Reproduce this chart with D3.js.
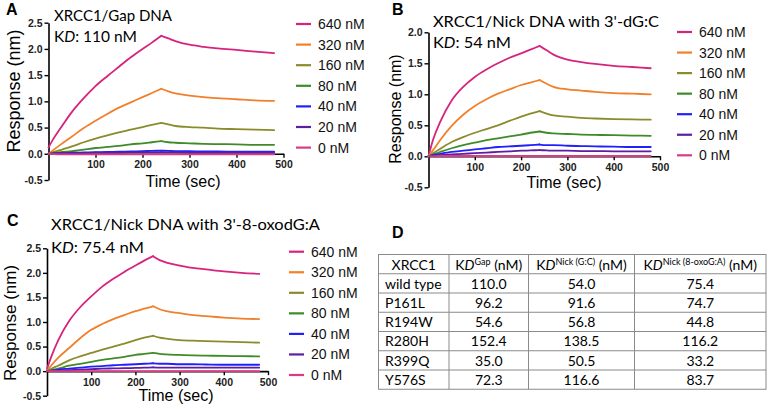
<!DOCTYPE html>
<html><head><meta charset="utf-8">
<script src="https://cdn.jsdelivr.net/npm/d3@7"></script>
<style>body{margin:0;background:#fff} svg{display:block}</style>
</head><body>
<svg id="c" width="774" height="409"></svg>
<script>
// ---------- data ----------
const times = [0,10,25,50,75,100,125,150,175,200,220,240,255,270,300,330,360,400,440,480];
const concentrations = ["640 nM","320 nM","160 nM","80 nM","40 nM","20 nM","0 nM"];

const gapResponses = [
  [0.12,0.28,0.48,0.80,1.06,1.29,1.48,1.66,1.84,2.00,2.12,2.25,2.20,2.15,2.08,2.04,2.01,1.98,1.95,1.92],
  [0,0.07,0.17,0.33,0.49,0.63,0.76,0.88,0.98,1.08,1.16,1.24,1.19,1.15,1.11,1.08,1.06,1.04,1.02,1.01],
  [0,0.03,0.07,0.14,0.22,0.29,0.35,0.41,0.46,0.51,0.55,0.59,0.56,0.53,0.51,0.50,0.48,0.47,0.46,0.45],
  [0,0.01,0.03,0.05,0.08,0.11,0.13,0.15,0.18,0.20,0.22,0.24,0.22,0.21,0.20,0.19,0.185,0.18,0.17,0.17],
  [0,0.005,0.01,0.02,0.025,0.03,0.035,0.04,0.045,0.05,0.055,0.06,0.055,0.05,0.05,0.045,0.045,0.04,0.04,0.04],
  [0,0.005,0.01,0.01,0.015,0.02,0.02,0.02,0.025,0.025,0.025,0.03,0.025,0.025,0.02,0.02,0.02,0.02,0.02,0.02],
  [0,-0.005,-0.01,-0.01,-0.01,-0.01,-0.01,-0.01,-0.01,-0.01,-0.01,-0.01,-0.01,-0.01,-0.01,-0.01,-0.01,-0.01,-0.01,-0.01]
];
const nickGCResponses = [
  [0,0.27,0.55,0.90,1.12,1.28,1.40,1.50,1.59,1.66,1.72,1.78,1.71,1.64,1.56,1.52,1.49,1.46,1.44,1.42],
  [0,0.10,0.26,0.49,0.67,0.81,0.92,1.01,1.08,1.15,1.19,1.23,1.17,1.12,1.08,1.06,1.04,1.02,1.01,1.00],
  [0,0.05,0.12,0.23,0.31,0.38,0.44,0.50,0.57,0.64,0.69,0.73,0.69,0.66,0.64,0.62,0.61,0.60,0.595,0.59],
  [0,0.03,0.07,0.13,0.18,0.22,0.26,0.29,0.32,0.35,0.38,0.40,0.38,0.37,0.36,0.35,0.345,0.34,0.335,0.33],
  [0,0.02,0.04,0.07,0.09,0.11,0.13,0.15,0.16,0.17,0.18,0.19,0.18,0.18,0.17,0.165,0.16,0.155,0.15,0.15],
  [0,0.01,0.02,0.03,0.04,0.05,0.06,0.07,0.08,0.09,0.095,0.10,0.095,0.09,0.09,0.085,0.085,0.08,0.08,0.08],
  [0,0,0.005,0.005,0.005,0.005,0.005,0.005,0.005,0.005,0.005,0.005,0.005,0.005,0.005,0.005,0.005,0.005,0.005,0.005]
];
const nickOxoResponses = [
  [0.05,0.30,0.62,1.02,1.30,1.52,1.72,1.88,2.02,2.15,2.25,2.34,2.26,2.21,2.15,2.10,2.07,2.03,2.00,1.98],
  [0,0.12,0.27,0.47,0.67,0.84,0.96,1.06,1.14,1.22,1.27,1.32,1.26,1.22,1.18,1.14,1.12,1.09,1.07,1.06],
  [0,0.05,0.11,0.22,0.30,0.37,0.44,0.50,0.56,0.63,0.68,0.72,0.68,0.66,0.63,0.62,0.61,0.60,0.59,0.58],
  [0,0.02,0.05,0.11,0.15,0.19,0.23,0.26,0.29,0.33,0.35,0.37,0.35,0.34,0.33,0.32,0.315,0.31,0.305,0.30],
  [0,0.01,0.03,0.05,0.07,0.09,0.10,0.12,0.13,0.14,0.15,0.16,0.15,0.15,0.14,0.14,0.135,0.13,0.13,0.13],
  [0,0.005,0.01,0.02,0.03,0.04,0.05,0.055,0.06,0.065,0.07,0.075,0.07,0.07,0.07,0.07,0.07,0.07,0.07,0.07],
  [0,0,0,0,0,0,0,0,0,0,0,0,0,0,0,0,0,0,0,0]
];

const yTicksTall = [-0.5,0,0.5,1,1.5,2,2.5];
const yTicksShort = [-0.5,0,0.5,1,1.5,2];
const xTicks = [100,200,300,400,500];

const mutants = ["wild type","P161L","R194W","R280H","R399Q","Y576S"];
const kdGap = [110.0,96.2,54.6,152.4,35.0,72.3];
const kdNickGC = [54.0,91.6,56.8,138.5,50.5,116.6];
const kdNickOxo = [75.4,74.7,44.8,116.2,33.2,83.7];

// ---------- styles ----------
const colors = ["#d6247e","#f0802c","#8b8b2c","#3e8b28","#2020ff","#5b1f9f","#dc3a86"];
const SANS = "'Liberation Sans', Arial, sans-serif";
const HUM = "Lato, 'Open Sans', sans-serif";
const PEAK_T = 240;

const svg = d3.select("#c");

function drawPanel(p) {
  const x = d3.scaleLinear().domain([0,500]).range([p.x0, p.x1]);
  const y = d3.scaleLinear().domain([-0.5, p.yMax]).range([p.yBot, p.yTop]);
  const g = svg.append("g");

  const ya = g.append("g").attr("transform", `translate(${p.x0},0)`)
    .call(d3.axisLeft(y).tickValues(p.yTicks).tickSize(4).tickSizeOuter(0).tickPadding(2)
      .tickFormat(d => d.toFixed(1)));
  const xa = g.append("g").attr("transform", `translate(0,${y(0)})`)
    .call(d3.axisBottom(x).tickValues(xTicks).tickSize(4).tickSizeOuter(0).tickPadding(3)
      .tickFormat(d3.format("d")));
  [ya, xa].forEach(a => {
    a.selectAll(".domain").attr("stroke", "#000").attr("stroke-width", 1.6);
    a.selectAll(".tick line").attr("stroke", "#000").attr("stroke-width", 1.4);
    a.selectAll("text").attr("font-family", SANS).attr("font-weight", "bold")
      .attr("font-size", 10.5).attr("fill", "#222");
  });

  const line = d3.line().x(d => x(d[0])).y(d => y(d[1])).curve(d3.curveMonotoneX);
  p.data.forEach((s, i) => {
    const pts = s.map((v, k) => [times[k], v]);
    const assoc = pts.filter(d => d[0] <= PEAK_T);
    const dissoc = pts.filter(d => d[0] >= PEAK_T);
    [assoc, dissoc].forEach(seg => {
      g.append("path").attr("d", line(seg)).attr("fill", "none")
        .attr("stroke", colors[i]).attr("stroke-width", 1.8)
        .attr("stroke-linejoin", "round").attr("stroke-linecap", "round");
    });
  });

  g.append("text").attr("transform", `translate(${p.yTitleX},${p.yTitleY}) rotate(-90)`)
    .attr("text-anchor", "middle").attr("font-family", SANS).attr("font-size", p.yTitleSize)
    .text("Response (nm)");
  g.append("text").attr("x", p.xTitleX).attr("y", p.xTitleY)
    .attr("text-anchor", "middle").attr("font-family", SANS).attr("font-size", 16)
    .text("Time (sec)");

  g.append("text").attr("x", p.letterX).attr("y", p.letterY)
    .attr("font-family", SANS).attr("font-weight", "bold").attr("font-size", 16)
    .text(p.letter);

  g.append("text").attr("x", p.titleX).attr("y", p.titleY)
    .attr("font-family", HUM).attr("font-size", 15)
    .attr("textLength", p.titleW).attr("lengthAdjust", "spacingAndGlyphs")
    .text(p.title);
  const kd = g.append("text").attr("x", p.titleX).attr("y", p.kdY)
    .attr("font-family", HUM).attr("font-size", 15)
    .attr("textLength", p.kdW).attr("lengthAdjust", "spacingAndGlyphs");
  kd.append("tspan").text("K");
  kd.append("tspan").attr("font-style", "italic").text("D");
  kd.append("tspan").text(": " + p.kdText);

  concentrations.forEach((c, i) => {
    const cy = p.legY + i * p.legStep;
    g.append("line").attr("x1", p.legX).attr("x2", p.legX + 15)
      .attr("y1", cy).attr("y2", cy).attr("stroke", colors[i]).attr("stroke-width", 2.2);
    g.append("text").attr("x", p.legX + 22).attr("y", cy + 5)
      .attr("font-family", SANS).attr("font-size", 14).attr("fill", "#111").text(c);
  });
}

drawPanel({letter:"A", letterX:6, letterY:15, x0:48.5, x1:283.5, yTop:22.7, yBot:180, yMax:2.5,
  yTicks:yTicksTall, data:gapResponses, yTitleX:20, yTitleY:91, yTitleSize:18,
  xTitleX:183, xTitleY:187,
  title:"XRCC1/Gap DNA", titleX:54, titleY:21, titleW:118, kdY:42, kdW:83, kdText:"110 nM",
  legX:296, legY:24, legStep:20.6});

drawPanel({letter:"B", letterX:392, letterY:15, x0:428.5, x1:660, yTop:32.3, yBot:187.3, yMax:2.0,
  yTicks:yTicksShort, data:nickGCResponses, yTitleX:401, yTitleY:109, yTitleSize:16,
  xTitleX:564, xTitleY:188,
  title:"XRCC1/Nick DNA with 3'-dG:C", titleX:433, titleY:27, titleW:226, kdY:48, kdW:78, kdText:"54 nM",
  legX:677, legY:32, legStep:20.55});

drawPanel({letter:"C", letterX:7, letterY:226, x0:47, x1:268, yTop:248.3, yBot:395.7, yMax:2.5,
  yTicks:yTicksTall, data:nickOxoResponses, yTitleX:16, yTitleY:323, yTitleSize:17,
  xTitleX:176, xTitleY:401,
  title:"XRCC1/Nick DNA with 3'-8-oxodG:A", titleX:51, titleY:230, titleW:269, kdY:253, kdW:93, kdText:"75.4 nM",
  legX:289, legY:251.7, legStep:20.55});

// ---------- panel D table ----------
svg.append("text").attr("x", 392).attr("y", 237.5).attr("font-family", SANS)
  .attr("font-weight", "bold").attr("font-size", 16).text("D");

const colX = [378.5, 449, 528.5, 634.5, 766];
const tTop = 254.5, rowH = 19.25, nRows = mutants.length + 1;
const tb = svg.append("g");
const gridColor = "#8a8a8a";
tb.append("rect").attr("x", colX[0]).attr("y", tTop).attr("width", colX[4]-colX[0])
  .attr("height", rowH*nRows).attr("fill", "none").attr("stroke", gridColor).attr("stroke-width", 1);
for (let r = 1; r < nRows; r++) {
  tb.append("line").attr("x1", colX[0]).attr("x2", colX[4]).attr("y1", tTop + r*rowH).attr("y2", tTop + r*rowH)
    .attr("stroke", gridColor).attr("stroke-width", 1);
}
for (let c = 1; c < 4; c++) {
  tb.append("line").attr("x1", colX[c]).attr("x2", colX[c]).attr("y1", tTop).attr("y2", tTop + rowH*nRows)
    .attr("stroke", gridColor).attr("stroke-width", 1);
}
const mid = c => (colX[c] + colX[c+1]) / 2;
const tFont = 14;
tb.append("text").attr("x", mid(0)).attr("y", tTop + 15).attr("text-anchor", "middle")
  .attr("font-family", HUM).attr("font-size", tFont).text("XRCC1");
const headerSups = ["Gap", "Nick (G:C)", "Nick (8-oxoG:A)"];
headerSups.forEach((s, i) => {
  const t = tb.append("text").attr("x", mid(i+1)).attr("y", tTop + 15).attr("text-anchor", "middle")
    .attr("font-family", HUM).attr("font-size", tFont);
  t.append("tspan").text("K");
  t.append("tspan").attr("font-style", "italic").text("D");
  t.append("tspan").attr("font-size", 9).attr("dy", -5).text(s);
  t.append("tspan").attr("dy", 5).text(" (nM)");
});
mutants.forEach((m, r) => {
  const by = tTop + (r+1)*rowH + 14.8;
  tb.append("text").attr("x", 385).attr("y", by).attr("font-family", HUM).attr("font-size", tFont).text(m);
  [kdGap, kdNickGC, kdNickOxo].forEach((arr, c) => {
    tb.append("text").attr("x", mid(c+1)).attr("y", by).attr("text-anchor", "middle")
      .attr("font-family", HUM).attr("font-size", tFont).text(arr[r].toFixed(1));
  });
});
</script>
</body></html>
